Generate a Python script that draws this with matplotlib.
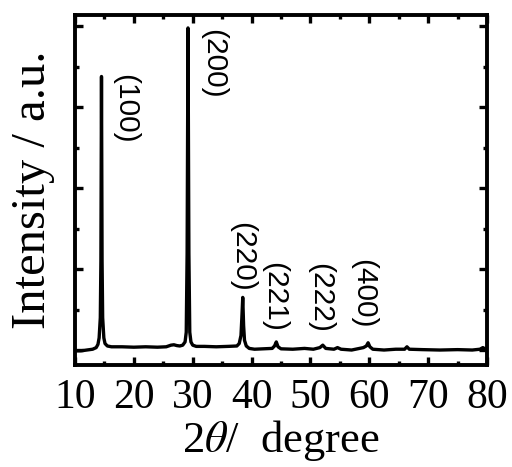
import matplotlib
matplotlib.use("Agg")
import matplotlib.pyplot as plt

# 2theta (degree) and intensity (a.u.)
two_theta = [10.0, 11.0, 12.0, 13.0, 13.6, 13.9, 14.1, 14.3, 14.4, 14.5, 14.6, 14.7, 14.9, 15.1, 15.5, 16.2,
             18.0, 20.0, 22.0, 24.0, 25.5, 26.3, 26.8, 27.3, 27.8, 28.3, 28.7, 28.9, 29.05, 29.2, 29.35,
             29.5, 29.7, 30.0, 30.6, 32.0, 34.0, 36.0, 37.5, 37.9, 38.2, 38.35, 38.5, 38.65, 38.8, 39.1,
             39.6, 40.5, 42.0, 43.5, 43.9, 44.2, 44.5, 45.0, 47.0, 49.0, 50.5, 51.6, 52.1, 52.6, 54.0,
             54.6, 55.2, 57.0, 59.0, 59.5, 59.8, 60.1, 60.6, 62.5, 64.5, 66.0, 66.4, 66.8, 69.0, 72.0,
             75.0, 77.5, 78.8, 79.3, 80.0]
intensity = [-0.01, -0.01, 0.0, 0.01, 0.03, 0.07, 0.15, 0.4, 1.1, 3.38, 1.1, 0.4, 0.15, 0.08, 0.05, 0.04,
             0.04, 0.035, 0.04, 0.035, 0.04, 0.06, 0.065, 0.055, 0.05, 0.06, 0.1, 0.22, 1.2, 3.98, 1.2,
             0.22, 0.1, 0.06, 0.045, 0.045, 0.04, 0.045, 0.05, 0.08, 0.18, 0.4, 0.65, 0.3, 0.12, 0.05,
             0.02, 0.01, 0.015, 0.02, 0.05, 0.1, 0.04, 0.015, 0.01, 0.02, 0.01, 0.03, 0.06, 0.02, 0.01,
             0.03, 0.01, 0.0, 0.03, 0.05, 0.09, 0.04, 0.01, 0.0, 0.01, 0.01, 0.04, 0.01, 0.005, 0.0,
             0.005, 0.0, 0.01, 0.03, 0.0]

peak_labels = ["(100)", "(200)", "(220)", "(221)", "(222)", "(400)"]
label_x = [18.5, 33.4, 38.4, 43.9, 51.6, 58.9]
label_y = [2.98, 3.54, 1.15, 0.66, 0.64, 0.70]

xticks = [10, 20, 30, 40, 50, 60, 70, 80]
x_title = "2$\\theta$/  degree"
y_title = "Intensity / a.u."

plt.rcParams['mathtext.fontset'] = 'stix'

W, H = 512, 467
fig = plt.figure(figsize=(W/100, H/100), dpi=100)
ax = fig.add_axes([75/W, 1-365/H, (487-75)/W, (365-15)/H])

ax.plot(two_theta, intensity, color='black', lw=2.4, solid_joinstyle='round')

for lab, x, y in zip(peak_labels, label_x, label_y):
    ax.text(x, y, lab, rotation=270, ha='center', va='center', rotation_mode='anchor',
            fontsize=21.5, family='Liberation Sans', color='black')

ax.set_xlim(10, 80)
ax.set_ylim(-0.185, 4.14)
ax.set_xticks(xticks)
ax.set_xticks([15, 25, 35, 45, 55, 65, 75], minor=True)
ax.set_yticks([0, 1, 2, 3, 4])
ax.set_yticks([0.5, 1.5, 2.5, 3.5], minor=True)
ax.set_yticklabels([])
ax.set_xticklabels([str(t) for t in xticks], family='Liberation Serif', fontsize=30)

ax.tick_params(which='both', direction='in', top=True, right=True, width=2.4, color='black')
ax.tick_params(which='major', length=5.5, pad=10)
ax.tick_params(which='minor', length=3)
for s in ax.spines.values():
    s.set_linewidth(2.8)

fig.text(281/W, 1-452/H, x_title, family='Liberation Serif', fontsize=32,
         ha='center', va='baseline')
fig.text(45/W, 1-190/H, y_title, family='Liberation Serif', fontsize=35,
         ha='center', va='baseline', rotation=90, rotation_mode='anchor')

fig.savefig("out.png", dpi=100)
